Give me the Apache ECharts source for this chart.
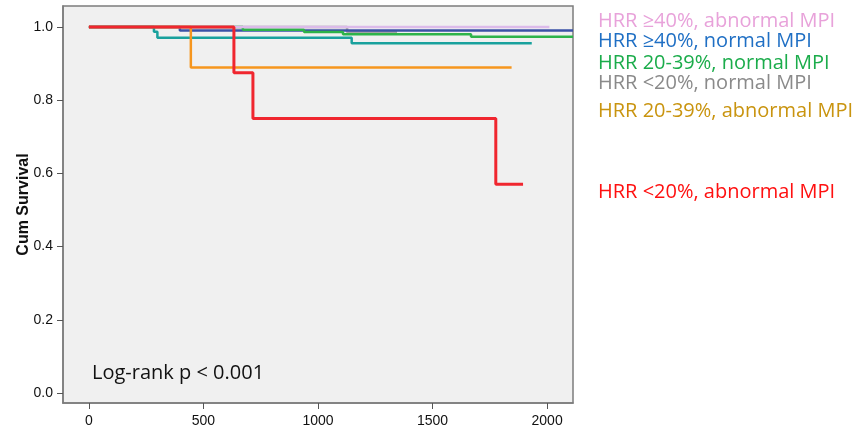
<!DOCTYPE html>
<html>
<head>
<meta charset="utf-8">
<style>
  html, body { margin: 0; padding: 0; background: #fff; }
  #main { width: 858px; height: 439px; }
</style>
<script src="https://cdn.jsdelivr.net/npm/echarts@6/dist/echarts.min.js"></script>
</head>
<body>
<div id="main"></div>
<script>
// survival curves: step times (days) and cumulative survival after each step
var tRed = [0, 633, 716, 1776, 1895];
var sRed = [1, 0.875, 0.75, 0.57, 0.57];
var tOrange = [0, 445, 1845];
var sOrange = [1, 0.889, 0.889];
var tTeal = [0, 284, 299, 1147, 1933];
var sTeal = [1, 0.987, 0.970, 0.955, 0.955];
var tGreen = [0, 672, 939, 1109, 1668, 2113];
var sGreen = [1, 0.992, 0.986, 0.980, 0.973, 0.973];
var tBlue = [0, 397, 2113];
var sBlue = [1, 0.99, 0.99];
var tPurple = [0, 2010];
var sPurple = [1, 1];
var tGray = [0, 1127, 1345];
var sGray = [1, 0.986, 0.986];

var xTicks = [0, 500, 1000, 1500, 2000];
var yTicks = [0, 0.2, 0.4, 0.6, 0.8, 1.0];

var groupNames = ['HRR ≥40%, abnormal MPI', 'HRR ≥40%, normal MPI', 'HRR 20-39%, normal MPI',
  'HRR <20%, normal MPI', 'HRR 20-39%, abnormal MPI', 'HRR <20%, abnormal MPI'];
var groupColors = ['#e8a2da', '#1f6fc4', '#1bac4b', '#8a8a8a', '#c9940f', '#ff1010'];

function pairs(t, s) {
  return t.map(function (v, i) { return [v, s[i]]; });
}

function curve(name, t, s, color, width) {
  return {
    name: name,
    type: 'line',
    step: 'end',
    symbol: 'none',
    data: pairs(t, s),
    lineStyle: { color: color, width: width }
  };
}

var myChart = echarts.init(document.getElementById('main'));
myChart.setOption({
  animation: false,
  grid: {
    left: 63, top: 6, right: 285, bottom: 36,
    show: true,
    backgroundColor: '#f0f0f0',
    borderColor: '#7c7c7c',
    borderWidth: 1.5
  },
  xAxis: {
    type: 'value',
    min: -113,
    max: 2113,
    splitLine: { show: false },
    axisLine: { show: true, onZero: false, lineStyle: { color: '#7c7c7c', width: 1.5 } },
    axisTick: { show: true, length: 6, customValues: xTicks, lineStyle: { color: '#555' } },
    axisLabel: {
      customValues: xTicks,
      color: '#111',
      fontFamily: 'Liberation Sans',
      fontSize: 14,
      margin: 11,
      formatter: function (v) { return String(v); }
    }
  },
  yAxis: {
    type: 'value',
    min: -0.027,
    max: 1.057,
    name: 'Cum Survival',
    nameLocation: 'middle',
    nameGap: 31,
    nameMoveOverlap: false,
    nameRotate: 90,
    nameTextStyle: { color: '#111', fontFamily: 'Liberation Sans', fontSize: 16, fontWeight: 'bold' },
    splitLine: { show: false },
    axisLine: { show: true, onZero: false, lineStyle: { color: '#7c7c7c', width: 1.5 } },
    axisTick: { show: true, length: 6, customValues: yTicks, lineStyle: { color: '#555' } },
    axisLabel: {
      customValues: yTicks,
      color: '#111',
      fontFamily: 'Liberation Sans',
      fontSize: 14,
      margin: 10,
      formatter: function (v) { return v.toFixed(1); }
    }
  },
  graphic: groupNames.map(function (name, i) {
    var ys = [21, 41, 63, 83, 111, 192];
    return {
      type: 'text',
      x: 598,
      y: ys[i],
      style: {
        text: name,
        fill: groupColors[i],
        font: '20px "Open Sans"',
        verticalAlign: 'middle'
      }
    };
  }).concat([{
    type: 'text',
    x: 92,
    y: 373,
    style: { text: 'Log-rank p < 0.001', fill: '#111', font: '20px "Open Sans"', verticalAlign: 'middle' }
  }]),
  series: [
    curve(groupNames[3], tGray, sGray, '#a3a3a3', 2.5),
    curve(groupNames[1], tBlue, sBlue, '#3a52a6', 2.5),
    curve(groupNames[2], tGreen, sGreen, '#2db34a', 2.5),
    curve(groupNames[0], tPurple, sPurple, '#dcbbea', 2.5),
    curve('HRR ≥40% teal', tTeal, sTeal, '#19a19d', 2.5),
    curve(groupNames[4], tOrange, sOrange, '#f6961e', 2.5),
    curve(groupNames[5], tRed, sRed, '#f0262f', 3)
  ]
});
</script>
</body>
</html>
